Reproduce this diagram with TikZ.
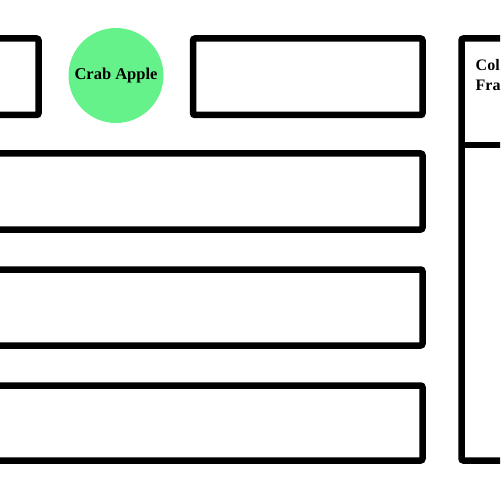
\documentclass[tikz,border=0pt]{standalone}
\usepackage{fontspec}
\setmainfont{Liberation Serif}
\definecolor{applegreen}{RGB}{102,242,138}
\tikzset{
  panel/.style={draw=black, line width=6.5bp, rounded corners=2bp, fill=white},
  fruit/.style={circle, fill=applegreen, draw=none, minimum size=95bp, inner sep=0pt,
    font=\fontsize{16.5bp}{19bp}\selectfont\bfseries},
  label/.style={anchor=base west, inner sep=0pt,
    font=\fontsize{16bp}{20bp}\selectfont\bfseries}
}
\begin{document}
\begin{tikzpicture}[x=1bp,y=-1bp]
\useasboundingbox (0,0) rectangle (500,500);
\begin{scope}
\clip (0,0) rectangle (500,500);
\draw[panel] (-60,38.5) rectangle (38.5,115) coordinate (tl);
\draw[panel] (193,38.5) rectangle (422.5,115) coordinate (tm);
\draw[panel] (-60,153.5) rectangle (422.5,229.5) coordinate (r2);
\draw[panel] (-60,269.5) rectangle (422.5,345.5) coordinate (r3);
\draw[panel] (-60,385.5) rectangle (422.5,460.5) coordinate (r4);
\draw[panel] (461.5,38.5) rectangle (580,460.5) coordinate (rt);
\draw[line width=6.5bp] (461.5,145) -- (580,145);
\end{scope}
\node[label] (txt1) at (475.5,71) {Col};
\node[label] (txt2) at (475.5,91) {Fra};
\node[fruit] (crab) at (116,75.5) {Crab Apple};
\end{tikzpicture}
\end{document}
